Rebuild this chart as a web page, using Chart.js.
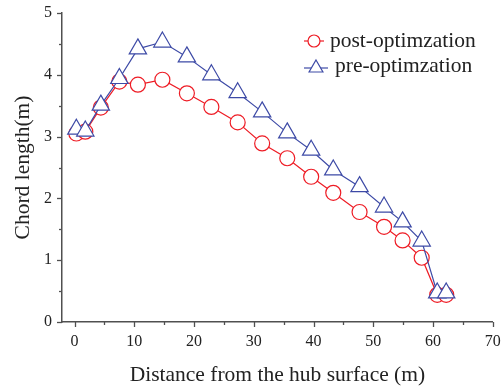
<!DOCTYPE html>
<html>
<head>
<meta charset="utf-8">
<script src="https://cdn.jsdelivr.net/npm/chart.js@4/dist/chart.umd.min.js"></script>
<style>
  html, body { margin:0; padding:0; background:#fff; }
  #wrap { width:504px; height:388px; position:relative; }
</style>
</head>
<body>
<div id="wrap"><canvas id="c" width="504" height="388"></canvas></div>
<script>
// distance from hub surface (m)
const distance = [0.3, 1.8, 4.4, 7.5, 10.6, 14.7, 18.8, 22.9, 27.3, 31.4, 35.6, 39.6, 43.3, 47.7, 51.8, 54.9, 58.1, 60.7, 62.2];
// chord length (m)
const postOpt = [3.05, 3.08, 3.47, 3.89, 3.84, 3.92, 3.70, 3.48, 3.23, 2.89, 2.65, 2.35, 2.09, 1.78, 1.54, 1.32, 1.04, 0.44, 0.44];
const preOpt  = [3.12, 3.09, 3.51, 3.94, 4.42, 4.53, 4.29, 4.00, 3.71, 3.40, 3.06, 2.78, 2.46, 2.19, 1.86, 1.62, 1.31, 0.47, 0.47];

const xTicks = [0, 10, 20, 30, 40, 50, 60, 70];
const yTicks = [0, 1, 2, 3, 4, 5];
const seriesNames = ["post-optimzation", "pre-optimzation"];

const RED = "#ee1c25";
const BLUE = "#3d4aa6";
const AXIS = "#505050";
const TXT = "#222";
const FONT = "Liberation Serif";

function pts(xs, ys){ return xs.map((x,i)=>({x, y:ys[i]})); }

// tick marks (major + minor) drawn from the scales
const tickMarks = {
  id: "tickMarks",
  afterDraw(chart){
    const {ctx, scales:{x, y}} = chart;
    ctx.save();
    ctx.strokeStyle = AXIS;
    ctx.lineWidth = 1.3;
    for (let v = 0; v <= 70; v += 5){
      const px = Math.round(x.getPixelForValue(v)) + 0.5;
      const len = v % 10 === 0 ? 5 : 3;
      ctx.beginPath(); ctx.moveTo(px, y.bottom); ctx.lineTo(px, y.bottom + len); ctx.stroke();
    }
    for (let v = 0; v <= 5; v += 0.5){
      const py = Math.round(y.getPixelForValue(v)) + 0.5;
      const len = Number.isInteger(v) ? 5 : 3;
      ctx.beginPath(); ctx.moveTo(x.left, py); ctx.lineTo(x.left - len, py); ctx.stroke();
    }
    ctx.restore();
  }
};

// legend with line-through markers
const lineLegend = {
  id: "lineLegend",
  afterDraw(chart){
    const ctx = chart.ctx;
    ctx.save();
    ctx.font = `21.5px "${FONT}"`;
    ctx.textBaseline = "middle";
    ctx.fillStyle = TXT;
    // row 1
    let cy = 41;
    ctx.strokeStyle = RED; ctx.lineWidth = 1.2;
    ctx.beginPath(); ctx.moveTo(304, cy); ctx.lineTo(324, cy); ctx.stroke();
    ctx.beginPath(); ctx.arc(314, cy, 6, 0, Math.PI*2); ctx.fillStyle = "#fff"; ctx.fill(); ctx.stroke();
    ctx.fillStyle = TXT; ctx.fillText(seriesNames[0], 330, cy);
    // row 2
    cy = 66;
    ctx.strokeStyle = BLUE;
    ctx.beginPath(); ctx.moveTo(304, cy + 2); ctx.lineTo(328, cy + 2); ctx.stroke();
    const r = 8;
    ctx.beginPath();
    ctx.moveTo(316, cy - r + 2);
    ctx.lineTo(316 + r*0.866, cy + r*0.5 + 2);
    ctx.lineTo(316 - r*0.866, cy + r*0.5 + 2);
    ctx.closePath();
    ctx.fillStyle = "#fff"; ctx.fill(); ctx.stroke();
    ctx.fillStyle = TXT; ctx.fillText(seriesNames[1], 335, cy);
    ctx.restore();
  }
};

new Chart(document.getElementById("c"), {
  type: "line",
  data: {
    datasets: [
      {
        label: seriesNames[0],
        data: pts(distance, postOpt),
        borderColor: RED, borderWidth: 1.2,
        pointStyle: "circle", pointRadius: 7.5,
        pointBackgroundColor: "#fff", pointBorderColor: RED, pointBorderWidth: 1.2,
        tension: 0, order: 2,
      },
      {
        label: seriesNames[1],
        data: pts(distance, preOpt),
        borderColor: BLUE, borderWidth: 1.2,
        pointStyle: "triangle", pointRadius: 10,
        pointBackgroundColor: "#fff", pointBorderColor: BLUE, pointBorderWidth: 1.2,
        tension: 0, order: 1,
      },
    ]
  },
  options: {
    responsive: false,
    animation: false,
    clip: false,
    layout: { padding: 0 },
    plugins: { legend: { display: false }, tooltip: { enabled: false } },
    scales: {
      x: {
        type: "linear", min: -2.1, max: 70,
        afterBuildTicks: (s)=>{ s.ticks = xTicks.map(v=>({value:v})); },
        afterFit: (s)=>{ s.height = 66; s.paddingRight = 8.5; },
        grid: { display: false, drawTicks: false },
        border: { display: true, color: AXIS, width: 1.5 },
        ticks: { color: TXT, font: { family: FONT, size: 16 }, padding: 10, maxRotation: 0 },
        title: { display: true, text: "Distance from the hub surface (m)", color: TXT,
                 font: { family: FONT, size: 21.5 }, padding: { top: 2, bottom: 0 } },
      },
      y: {
        type: "linear", min: 0, max: 5,
        afterBuildTicks: (s)=>{ s.ticks = yTicks.map(v=>({value:v})); },
        afterFit: (s)=>{ s.width = 62; s.paddingTop = 13; },
        grid: { display: false, drawTicks: false },
        border: { display: true, color: AXIS, width: 1.5 },
        ticks: { color: TXT, font: { family: FONT, size: 16 }, padding: 10 },
        title: { display: true, text: "Chord length(m)", color: TXT,
                 font: { family: FONT, size: 21.5 }, padding: { top: 10, bottom: 0 } },
      }
    }
  },
  plugins: [tickMarks, lineLegend]
});
</script>
</body>
</html>
